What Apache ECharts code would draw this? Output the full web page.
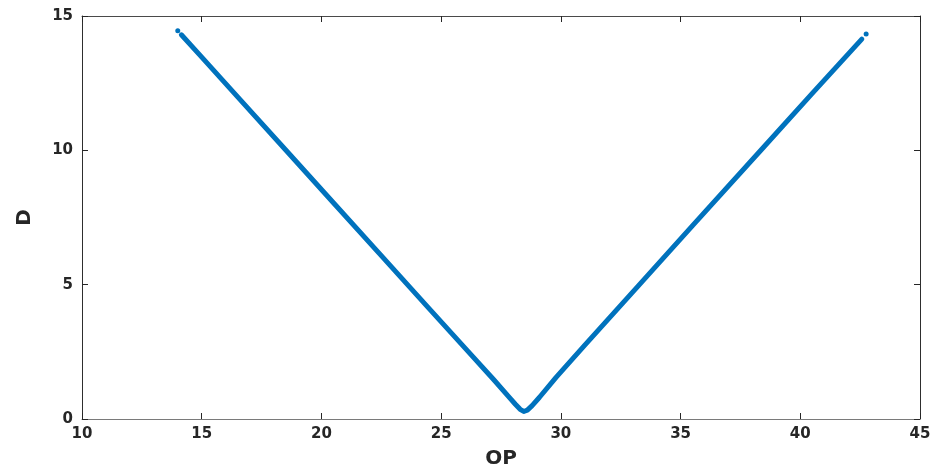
<!DOCTYPE html>
<html>
<head>
<meta charset="utf-8">
<style>
  html, body { margin: 0; padding: 0; background: #ffffff; }
  #chart { width: 935px; height: 466px; }
</style>
<script src="https://cdn.jsdelivr.net/npm/echarts@6/dist/echarts.min.js"></script>
</head>
<body>
<div id="chart"></div>
<script>
// OP (x) and D (y) samples along the measured curve
const opValues = [14.15, 15.0, 16.5, 18.5, 20.5, 22.5, 24.5, 26.0, 27.2, 27.8, 28.1, 28.3, 28.45, 28.6, 28.8, 29.1, 29.8, 31.0, 33.3, 35.5, 38.4, 40.5, 42.57];
const dValues  = [14.30, 13.47, 11.99, 10.02, 8.05, 6.08, 4.11, 2.64, 1.46, 0.85, 0.55, 0.36, 0.28, 0.33, 0.50, 0.80, 1.55, 2.75, 5.02, 7.20, 10.05, 12.12, 14.14];

// isolated end samples
const endOp = [14.0, 42.75];
const endD  = [14.45, 14.33];

const xTicks = [10, 15, 20, 25, 30, 35, 40, 45];
const yTicks = [0, 5, 10, 15];

const curve = opValues.map((v, i) => [v, dValues[i]]);
const ends = endOp.map((v, i) => [v, endD[i]]);

const labelFont = {
  fontFamily: 'DejaVu Sans',
  fontWeight: 'bold',
  fontSize: 15,
  color: '#262626'
};

const chart = echarts.init(document.getElementById('chart'), null, { renderer: 'canvas' });

function xAxisDef(pos, showLabel, lineColor) {
  return {
    type: 'value',
    position: pos,
    min: xTicks[0],
    max: xTicks[xTicks.length - 1],
    interval: 5,
    name: showLabel ? 'OP' : '',
    nameLocation: 'middle',
    nameGap: 30,
    nameTextStyle: { fontFamily: 'DejaVu Sans', fontWeight: 'bold', fontSize: 20, color: '#262626' },
    axisLine: { show: true, onZero: false, lineStyle: { color: lineColor, width: 1 } },
    axisTick: { show: true, inside: true, length: 6, lineStyle: { color: '#262626', width: 1 } },
    axisLabel: Object.assign({ show: showLabel, margin: 8 }, labelFont),
    splitLine: { show: false }
  };
}

function yAxisDef(pos, showLabel) {
  return {
    type: 'value',
    position: pos,
    min: yTicks[0],
    max: yTicks[yTicks.length - 1],
    interval: 5,
    name: showLabel ? 'D' : '',
    nameLocation: 'middle',
    nameGap: 47,
    nameRotate: 90,
    nameTextStyle: { fontFamily: 'DejaVu Sans', fontWeight: 'bold', fontSize: 20, color: '#262626' },
    axisLine: { show: true, onZero: false, lineStyle: { color: '#2e2e2e', width: 1 } },
    axisTick: { show: true, inside: true, length: 6, lineStyle: { color: '#262626', width: 1 } },
    axisLabel: Object.assign({ show: showLabel, margin: 9 }, labelFont),
    splitLine: { show: false }
  };
}

chart.setOption({
  animation: false,
  backgroundColor: '#ffffff',
  grid: { left: 82, right: 15, top: 16, bottom: 47, containLabel: false, outerBoundsMode: 'none' },
  xAxis: [xAxisDef('bottom', true, '#7a7a7a'), xAxisDef('top', false, '#4a4a4a')],
  yAxis: [yAxisDef('left', true), yAxisDef('right', false)],
  series: [
    {
      type: 'line',
      data: curve,
      xAxisIndex: 0,
      yAxisIndex: 0,
      showSymbol: false,
      symbol: 'none',
      smooth: false,
      lineStyle: { color: '#0072BD', width: 5, cap: 'round', join: 'round' }
    },
    {
      type: 'scatter',
      data: ends,
      xAxisIndex: 0,
      yAxisIndex: 0,
      symbol: 'circle',
      symbolSize: 5,
      itemStyle: { color: '#0072BD', opacity: 1 }
    }
  ]
});
</script>
</body>
</html>
